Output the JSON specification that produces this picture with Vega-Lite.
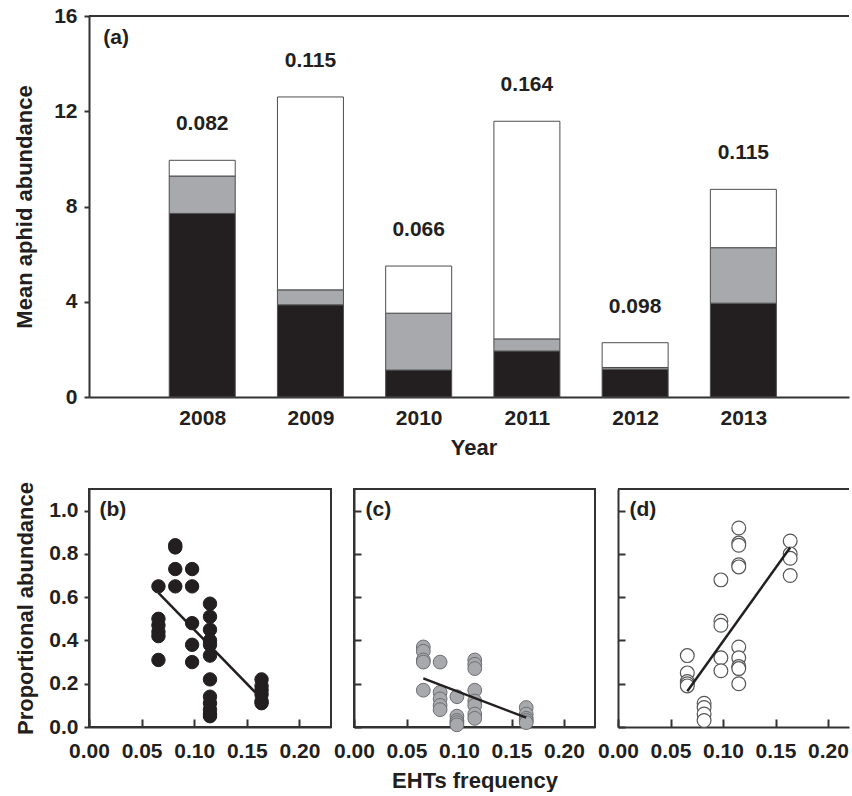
{
  "$schema": "https://vega.github.io/schema/vega-lite/v6.json",
  "padding": {"left": 13, "top": 5, "right": 0, "bottom": 0},
  "background": "white",
  "config": {
    "font": "Liberation Sans",
    "axis": {
      "labelFont": "Liberation Sans", "labelFontWeight": "bold", "labelFontSize": 21, "labelColor": "#231f20",
      "titleFont": "Liberation Sans", "titleFontWeight": "bold", "titleFontSize": 22, "titleColor": "#231f20",
      "domainColor": "#333333", "domainWidth": 2, "tickColor": "#333333", "tickWidth": 2,
      "grid": false, "labelOverlap": false, "labelFlush": false
    },
    "view": {"stroke": "#333333", "strokeWidth": 2},
    "text": {"font": "Liberation Sans", "fontWeight": "bold", "fontSize": 21, "color": "#231f20"}
  },
  "datasets": {
    "bars": [
      {"year": 2008, "group": "Group 1", "value": 7.71, "freq": 0.082},
      {"year": 2008, "group": "Group 2", "value": 1.57, "freq": 0.082},
      {"year": 2008, "group": "Group 3", "value": 0.66, "freq": 0.082},
      {"year": 2009, "group": "Group 1", "value": 3.87, "freq": 0.115},
      {"year": 2009, "group": "Group 2", "value": 0.63, "freq": 0.115},
      {"year": 2009, "group": "Group 3", "value": 8.10, "freq": 0.115},
      {"year": 2010, "group": "Group 1", "value": 1.13, "freq": 0.066},
      {"year": 2010, "group": "Group 2", "value": 2.39, "freq": 0.066},
      {"year": 2010, "group": "Group 3", "value": 1.98, "freq": 0.066},
      {"year": 2011, "group": "Group 1", "value": 1.93, "freq": 0.164},
      {"year": 2011, "group": "Group 2", "value": 0.51, "freq": 0.164},
      {"year": 2011, "group": "Group 3", "value": 9.14, "freq": 0.164},
      {"year": 2012, "group": "Group 1", "value": 1.17, "freq": 0.098},
      {"year": 2012, "group": "Group 2", "value": 0.07, "freq": 0.098},
      {"year": 2012, "group": "Group 3", "value": 1.04, "freq": 0.098},
      {"year": 2013, "group": "Group 1", "value": 3.94, "freq": 0.115},
      {"year": 2013, "group": "Group 2", "value": 2.33, "freq": 0.115},
      {"year": 2013, "group": "Group 3", "value": 2.45, "freq": 0.115}
    ],
    "pts": [
      {"panel": "b", "x": 0.066, "y": 0.65}, {"panel": "b", "x": 0.066, "y": 0.50}, {"panel": "b", "x": 0.066, "y": 0.47},
      {"panel": "b", "x": 0.066, "y": 0.44}, {"panel": "b", "x": 0.066, "y": 0.42}, {"panel": "b", "x": 0.066, "y": 0.31},
      {"panel": "b", "x": 0.082, "y": 0.84}, {"panel": "b", "x": 0.082, "y": 0.83}, {"panel": "b", "x": 0.082, "y": 0.73},
      {"panel": "b", "x": 0.082, "y": 0.65},
      {"panel": "b", "x": 0.098, "y": 0.73}, {"panel": "b", "x": 0.098, "y": 0.65}, {"panel": "b", "x": 0.098, "y": 0.48},
      {"panel": "b", "x": 0.098, "y": 0.38}, {"panel": "b", "x": 0.098, "y": 0.30},
      {"panel": "b", "x": 0.115, "y": 0.57}, {"panel": "b", "x": 0.115, "y": 0.51}, {"panel": "b", "x": 0.115, "y": 0.45},
      {"panel": "b", "x": 0.115, "y": 0.40}, {"panel": "b", "x": 0.115, "y": 0.38}, {"panel": "b", "x": 0.115, "y": 0.33},
      {"panel": "b", "x": 0.115, "y": 0.22}, {"panel": "b", "x": 0.115, "y": 0.14}, {"panel": "b", "x": 0.115, "y": 0.11},
      {"panel": "b", "x": 0.115, "y": 0.08}, {"panel": "b", "x": 0.115, "y": 0.06}, {"panel": "b", "x": 0.115, "y": 0.05},
      {"panel": "b", "x": 0.164, "y": 0.22}, {"panel": "b", "x": 0.164, "y": 0.19}, {"panel": "b", "x": 0.164, "y": 0.17},
      {"panel": "b", "x": 0.164, "y": 0.15}, {"panel": "b", "x": 0.164, "y": 0.12}, {"panel": "b", "x": 0.164, "y": 0.11},
      {"panel": "c", "x": 0.066, "y": 0.37}, {"panel": "c", "x": 0.066, "y": 0.35}, {"panel": "c", "x": 0.066, "y": 0.31},
      {"panel": "c", "x": 0.066, "y": 0.30}, {"panel": "c", "x": 0.066, "y": 0.17},
      {"panel": "c", "x": 0.082, "y": 0.30}, {"panel": "c", "x": 0.082, "y": 0.16}, {"panel": "c", "x": 0.082, "y": 0.13},
      {"panel": "c", "x": 0.082, "y": 0.10}, {"panel": "c", "x": 0.082, "y": 0.08},
      {"panel": "c", "x": 0.098, "y": 0.14}, {"panel": "c", "x": 0.098, "y": 0.05}, {"panel": "c", "x": 0.098, "y": 0.03},
      {"panel": "c", "x": 0.098, "y": 0.02}, {"panel": "c", "x": 0.098, "y": 0.01},
      {"panel": "c", "x": 0.115, "y": 0.31}, {"panel": "c", "x": 0.115, "y": 0.29}, {"panel": "c", "x": 0.115, "y": 0.27},
      {"panel": "c", "x": 0.115, "y": 0.17}, {"panel": "c", "x": 0.115, "y": 0.12}, {"panel": "c", "x": 0.115, "y": 0.10},
      {"panel": "c", "x": 0.115, "y": 0.06}, {"panel": "c", "x": 0.115, "y": 0.04},
      {"panel": "c", "x": 0.164, "y": 0.09}, {"panel": "c", "x": 0.164, "y": 0.06}, {"panel": "c", "x": 0.164, "y": 0.04},
      {"panel": "c", "x": 0.164, "y": 0.03}, {"panel": "c", "x": 0.164, "y": 0.02},
      {"panel": "d", "x": 0.066, "y": 0.33}, {"panel": "d", "x": 0.066, "y": 0.25}, {"panel": "d", "x": 0.066, "y": 0.21},
      {"panel": "d", "x": 0.066, "y": 0.20}, {"panel": "d", "x": 0.066, "y": 0.19},
      {"panel": "d", "x": 0.082, "y": 0.11}, {"panel": "d", "x": 0.082, "y": 0.09}, {"panel": "d", "x": 0.082, "y": 0.06},
      {"panel": "d", "x": 0.082, "y": 0.03},
      {"panel": "d", "x": 0.098, "y": 0.68}, {"panel": "d", "x": 0.098, "y": 0.49}, {"panel": "d", "x": 0.098, "y": 0.47},
      {"panel": "d", "x": 0.098, "y": 0.32}, {"panel": "d", "x": 0.098, "y": 0.26},
      {"panel": "d", "x": 0.115, "y": 0.92}, {"panel": "d", "x": 0.115, "y": 0.85}, {"panel": "d", "x": 0.115, "y": 0.84},
      {"panel": "d", "x": 0.115, "y": 0.75}, {"panel": "d", "x": 0.115, "y": 0.74}, {"panel": "d", "x": 0.115, "y": 0.37},
      {"panel": "d", "x": 0.115, "y": 0.32}, {"panel": "d", "x": 0.115, "y": 0.28}, {"panel": "d", "x": 0.115, "y": 0.27},
      {"panel": "d", "x": 0.115, "y": 0.20},
      {"panel": "d", "x": 0.164, "y": 0.86}, {"panel": "d", "x": 0.164, "y": 0.80}, {"panel": "d", "x": 0.164, "y": 0.78},
      {"panel": "d", "x": 0.164, "y": 0.70}
    ],
    "fit": [
      {"panel": "b", "x": 0.066, "y": 0.62}, {"panel": "b", "x": 0.158, "y": 0.16},
      {"panel": "c", "x": 0.066, "y": 0.225}, {"panel": "c", "x": 0.164, "y": 0.043},
      {"panel": "d", "x": 0.066, "y": 0.165}, {"panel": "d", "x": 0.164, "y": 0.83}
    ]
  },
  "bounds": "flush",
  "spacing": 92,
  "vconcat": [
    {
      "width": 760,
      "height": 381,
      "view": {"stroke": null},
      "layer": [
        {
          "data": {"name": "bars"},
          "mark": {"type": "bar", "size": 66, "stroke": "#4d4d4d", "strokeWidth": 1},
          "encoding": {
            "x": {"field": "year", "type": "quantitative",
                  "scale": {"domain": [2007, 2013.93], "nice": false, "zero": false},
                  "axis": {"values": [2008, 2009, 2010, 2011, 2012, 2013], "format": "d", "tickSize": 0,
                           "labelPadding": 10, "title": "Year", "titlePadding": 9, "titleX": 384.5}},
            "y": {"field": "value", "type": "quantitative", "stack": "zero",
                  "scale": {"domain": [0, 16], "nice": false},
                  "axis": {"values": [0, 4, 8, 12, 16], "tickSize": 5, "labelPadding": 7,
                           "title": "Mean aphid abundance", "titlePadding": 17}},
            "color": {"field": "group", "type": "nominal",
                      "scale": {"domain": ["Group 1", "Group 2", "Group 3"], "range": ["#231f20", "#a7a9ac", "#ffffff"]},
                      "legend": null},
            "order": {"field": "group", "type": "nominal", "sort": "ascending"}
          }
        },
        {
          "data": {"name": "bars"},
          "transform": [{"aggregate": [{"op": "sum", "field": "value", "as": "total"}], "groupby": ["year", "freq"]}],
          "mark": {"type": "text", "dy": -36, "baseline": "middle", "align": "center"},
          "encoding": {
            "x": {"field": "year", "type": "quantitative"},
            "y": {"field": "total", "type": "quantitative"},
            "text": {"field": "freq", "type": "quantitative", "format": ".3f"}
          }
        },
        {
          "data": {"values": [{}]},
          "mark": {"type": "rule", "color": "#333333", "strokeWidth": 2},
          "encoding": {"y": {"datum": 16}}
        },
        {
          "data": {"values": [{}]},
          "mark": {"type": "text", "align": "left", "baseline": "middle"},
          "encoding": {"x": {"datum": 2007.086}, "y": {"datum": 15.07}, "text": {"value": "(a)"}}
        }
      ]
    },
    {
      "bounds": "flush",
      "spacing": 23,
      "hconcat": [
        {
          "width": 242, "height": 238,
          "layer": [
            {
              "data": {"name": "pts"},
              "transform": [{"filter": "datum.panel == 'b'"}],
              "mark": {"type": "circle", "size": 180, "fill": "#231f20", "stroke": "#231f20", "strokeWidth": 1, "opacity": 1},
              "encoding": {
                "x": {"field": "x", "type": "quantitative", "scale": {"domain": [0, 0.23], "nice": false},
                      "axis": {"values": [0, 0.05, 0.1, 0.15, 0.2], "format": ".2f", "tickSize": -8, "labelPadding": 21, "title": null}},
                "y": {"field": "y", "type": "quantitative", "scale": {"domain": [0, 1.1], "nice": false},
                      "axis": {"values": [0, 0.2, 0.4, 0.6, 0.8, 1.0], "format": ".1f", "tickSize": 5, "labelPadding": 6,
                               "title": "Proportional abundance", "titlePadding": 11}}
              }
            },
            {
              "data": {"name": "fit"},
              "transform": [{"filter": "datum.panel == 'b'"}],
              "mark": {"type": "line", "color": "#231f20", "strokeWidth": 2.5},
              "encoding": {"x": {"field": "x", "type": "quantitative"}, "y": {"field": "y", "type": "quantitative"}}
            },
            {
              "data": {"values": [{}]},
              "mark": {"type": "text", "align": "left", "baseline": "middle"},
              "encoding": {"x": {"datum": 0.01}, "y": {"datum": 1.005}, "text": {"value": "(b)"}}
            }
          ]
        },
        {
          "width": 241, "height": 238,
          "layer": [
            {
              "data": {"name": "pts"},
              "transform": [{"filter": "datum.panel == 'c'"}],
              "mark": {"type": "circle", "size": 190, "fill": "#a7a9ac", "stroke": "#6d6e71", "strokeWidth": 1, "opacity": 1},
              "encoding": {
                "x": {"field": "x", "type": "quantitative", "scale": {"domain": [0, 0.2295], "nice": false},
                      "axis": {"values": [0, 0.05, 0.1, 0.15, 0.2], "format": ".2f", "tickSize": -8, "labelPadding": 21,
                               "title": "EHTs frequency", "titlePadding": 9}},
                "y": {"field": "y", "type": "quantitative", "scale": {"domain": [0, 1.1], "nice": false},
                      "axis": {"values": [0, 0.2, 0.4, 0.6, 0.8, 1.0], "tickSize": -7, "labels": false, "title": null}}
              }
            },
            {
              "data": {"name": "fit"},
              "transform": [{"filter": "datum.panel == 'c'"}],
              "mark": {"type": "line", "color": "#231f20", "strokeWidth": 2.5},
              "encoding": {"x": {"field": "x", "type": "quantitative"}, "y": {"field": "y", "type": "quantitative"}}
            },
            {
              "data": {"values": [{}]},
              "mark": {"type": "text", "align": "left", "baseline": "middle"},
              "encoding": {"x": {"datum": 0.011}, "y": {"datum": 1.005}, "text": {"value": "(c)"}}
            }
          ]
        },
        {
          "width": 231, "height": 238,
          "view": {"stroke": null},
          "layer": [
            {
              "data": {"name": "pts"},
              "transform": [{"filter": "datum.panel == 'd'"}],
              "mark": {"type": "circle", "size": 190, "fill": "#ffffff", "stroke": "#555555", "strokeWidth": 1.2, "opacity": 1},
              "encoding": {
                "x": {"field": "x", "type": "quantitative", "scale": {"domain": [0, 0.22], "nice": false},
                      "axis": {"values": [0, 0.05, 0.1, 0.15, 0.2], "format": ".2f", "tickSize": -8, "labelPadding": 21, "title": null}},
                "y": {"field": "y", "type": "quantitative", "scale": {"domain": [0, 1.1], "nice": false},
                      "axis": {"values": [0, 0.2, 0.4, 0.6, 0.8, 1.0], "tickSize": -7, "labels": false, "title": null}}
              }
            },
            {
              "data": {"name": "fit"},
              "transform": [{"filter": "datum.panel == 'd'"}],
              "mark": {"type": "line", "color": "#231f20", "strokeWidth": 2.5},
              "encoding": {"x": {"field": "x", "type": "quantitative"}, "y": {"field": "y", "type": "quantitative"}}
            },
            {
              "data": {"values": [{}]},
              "mark": {"type": "rule", "color": "#333333", "strokeWidth": 2},
              "encoding": {"y": {"datum": 1.1}}
            },
            {
              "data": {"values": [{}]},
              "mark": {"type": "text", "align": "left", "baseline": "middle"},
              "encoding": {"x": {"datum": 0.011}, "y": {"datum": 1.005}, "text": {"value": "(d)"}}
            }
          ]
        }
      ]
    }
  ]
}
